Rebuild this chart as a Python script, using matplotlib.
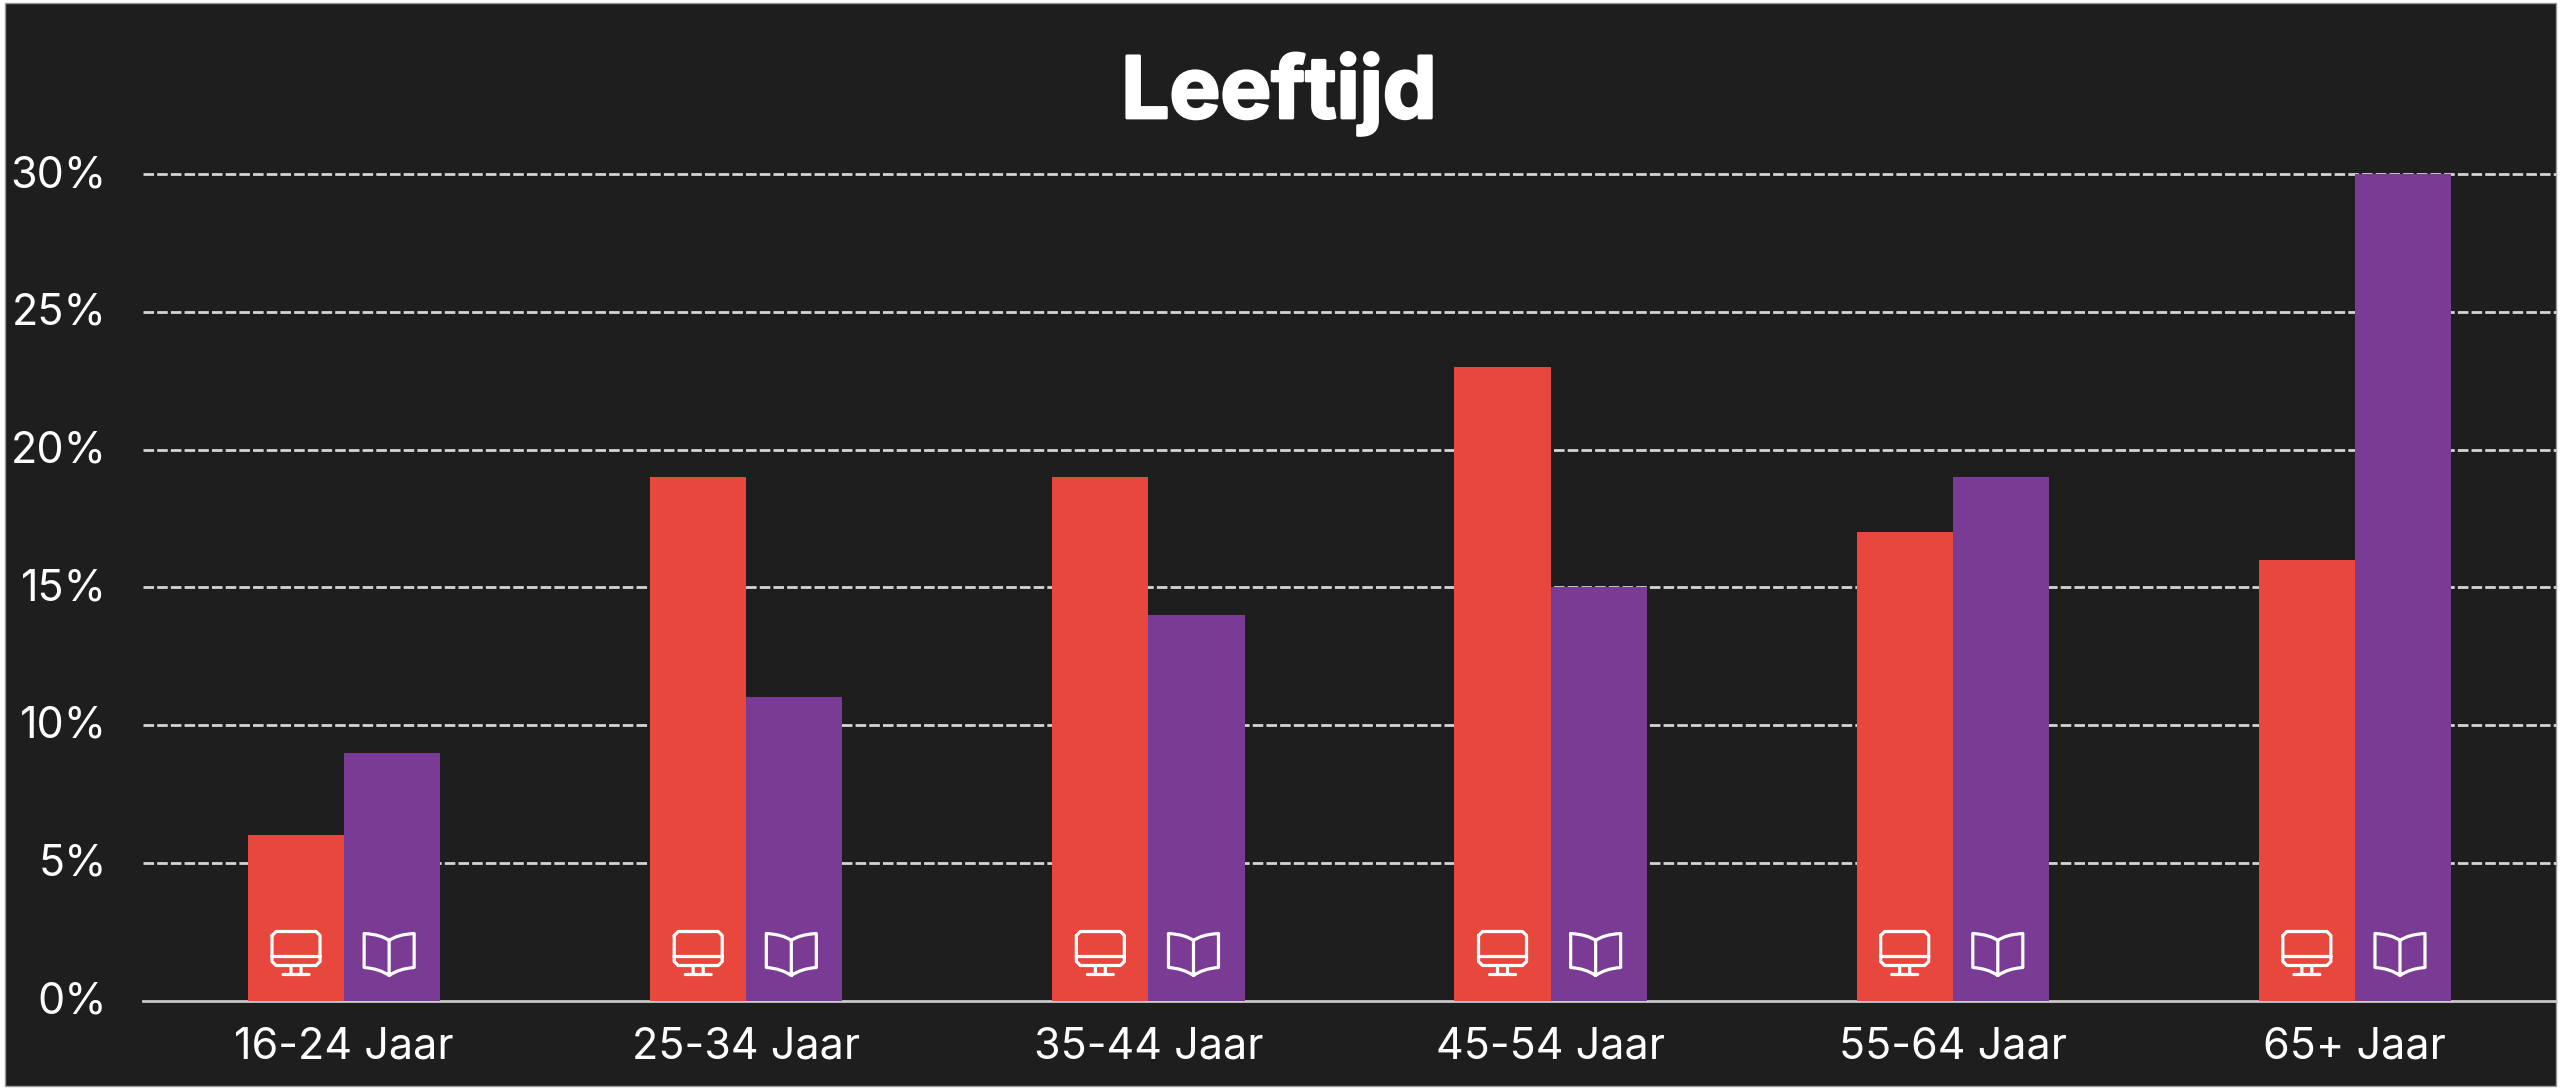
import matplotlib
matplotlib.use('Agg')
import numpy as np
import matplotlib.pyplot as plt
import matplotlib.patheffects as pe
from matplotlib.patches import PathPatch, Rectangle
from matplotlib.path import Path
from matplotlib.transforms import Affine2D

plt.rcParams['font.family'] = ['Inter', 'DejaVu Sans']

# Leeftijd percentages
categories = ['16-24 Jaar', '25-34 Jaar', '35-44 Jaar', '45-54 Jaar', '55-64 Jaar', '65+ Jaar']
screen_values = [6, 19, 19, 23, 17, 16]
print_values = [9, 11, 14, 15, 19, 30]
y_ticks = [0, 5, 10, 15, 20, 25, 30]

W, H = 2562, 1090
BG = '#1e1e1e'
RED = '#e8473d'
PURPLE = '#7a3b94'
BAR_W = 0.239

# icon outlines in pixels, relative to the bar centre on the baseline
monitor = Path(
    [(-24, 65), (-24, 39), (-20, 35), (20, 35), (24, 39), (24, 65), (20, 69), (-20, 69), (-24, 65),
     (-24, 44), (24, 44),
     (-5, 35), (-5, 26), (5, 35), (5, 26),
     (-13, 26), (13, 26)],
    [Path.MOVETO, Path.LINETO, Path.LINETO, Path.LINETO, Path.LINETO, Path.LINETO, Path.LINETO, Path.LINETO, Path.LINETO,
     Path.MOVETO, Path.LINETO,
     Path.MOVETO, Path.LINETO, Path.MOVETO, Path.LINETO,
     Path.MOVETO, Path.LINETO])
book = Path(
    [(-3, 60), (-11, 66), (-28, 67), (-28, 33), (-13, 32), (-3, 25), (7, 32), (22, 33), (22, 67), (5, 66), (-3, 60), (-3, 25)],
    [Path.MOVETO, Path.CURVE3, Path.CURVE3, Path.LINETO, Path.CURVE3, Path.CURVE3, Path.CURVE3, Path.CURVE3,
     Path.LINETO, Path.CURVE3, Path.CURVE3, Path.LINETO])


def add_icon(fig, ax, path, x):
    # place the outline at a data position, sizes stay in pixels
    px, py = ax.transData.transform((x, 0))
    fig.add_artist(PathPatch(path, transform=Affine2D().translate(px, py), facecolor='none',
                             edgecolor='white', linewidth=2.3, joinstyle='round', capstyle='round', zorder=5))


fig = plt.figure(figsize=(W / 100, H / 100), dpi=100, facecolor='white')
# dark panel with a thin grey edge, white margin outside it
fig.add_artist(Rectangle((5 / W, 4 / H), (2556 - 5) / W, (1086 - 3) / H, transform=fig.transFigure,
                         facecolor=BG, edgecolor='#9a9a9a', linewidth=1, zorder=-5))
ax = fig.add_axes([143 / W, 89.5 / H, (2556 - 143) / W, (1000.5 - 174) / H])
ax.patch.set_visible(False)

x = np.arange(len(categories))
ax.bar(x - BAR_W / 2, screen_values, BAR_W, color=RED, zorder=3)
ax.bar(x + BAR_W / 2, print_values, BAR_W, color=PURPLE, zorder=3)

ax.set_xlim(-0.5, 5.5)
ax.set_ylim(0, 30)
ax.set_xticks(x, categories)
ax.set_yticks(y_ticks, [f'{v}%' for v in y_ticks])
ax.tick_params(length=0, colors='white', labelsize=31)
ax.tick_params(axis='y', pad=26)
ax.tick_params(axis='x', pad=19)

# y labels sit a little above their gridlines
for label in ax.get_yticklabels():
    label.set_transform(label.get_transform() + Affine2D().translate(0, 3))

for v in y_ticks[1:]:
    ax.axhline(v, color='#d4d4d4', lw=2, dashes=(3.8, 1.13), zorder=2, clip_on=False)

for side in ['top', 'right', 'left']:
    ax.spines[side].set_visible(False)
ax.spines['bottom'].set_color('#c8c8c8')
ax.spines['bottom'].set_linewidth(2)

for xi in x:
    add_icon(fig, ax, monitor, xi - BAR_W / 2)
    add_icon(fig, ax, book, xi + BAR_W / 2)

title = fig.text(1279 / W, 1 - 118 / H, 'Leeftijd', color='white', fontsize=61.5, fontweight='bold',
                 ha='center', va='baseline')
title.set_path_effects([pe.withStroke(linewidth=2, foreground='white')])

fig.savefig('out.png', dpi=100, facecolor=fig.get_facecolor())
